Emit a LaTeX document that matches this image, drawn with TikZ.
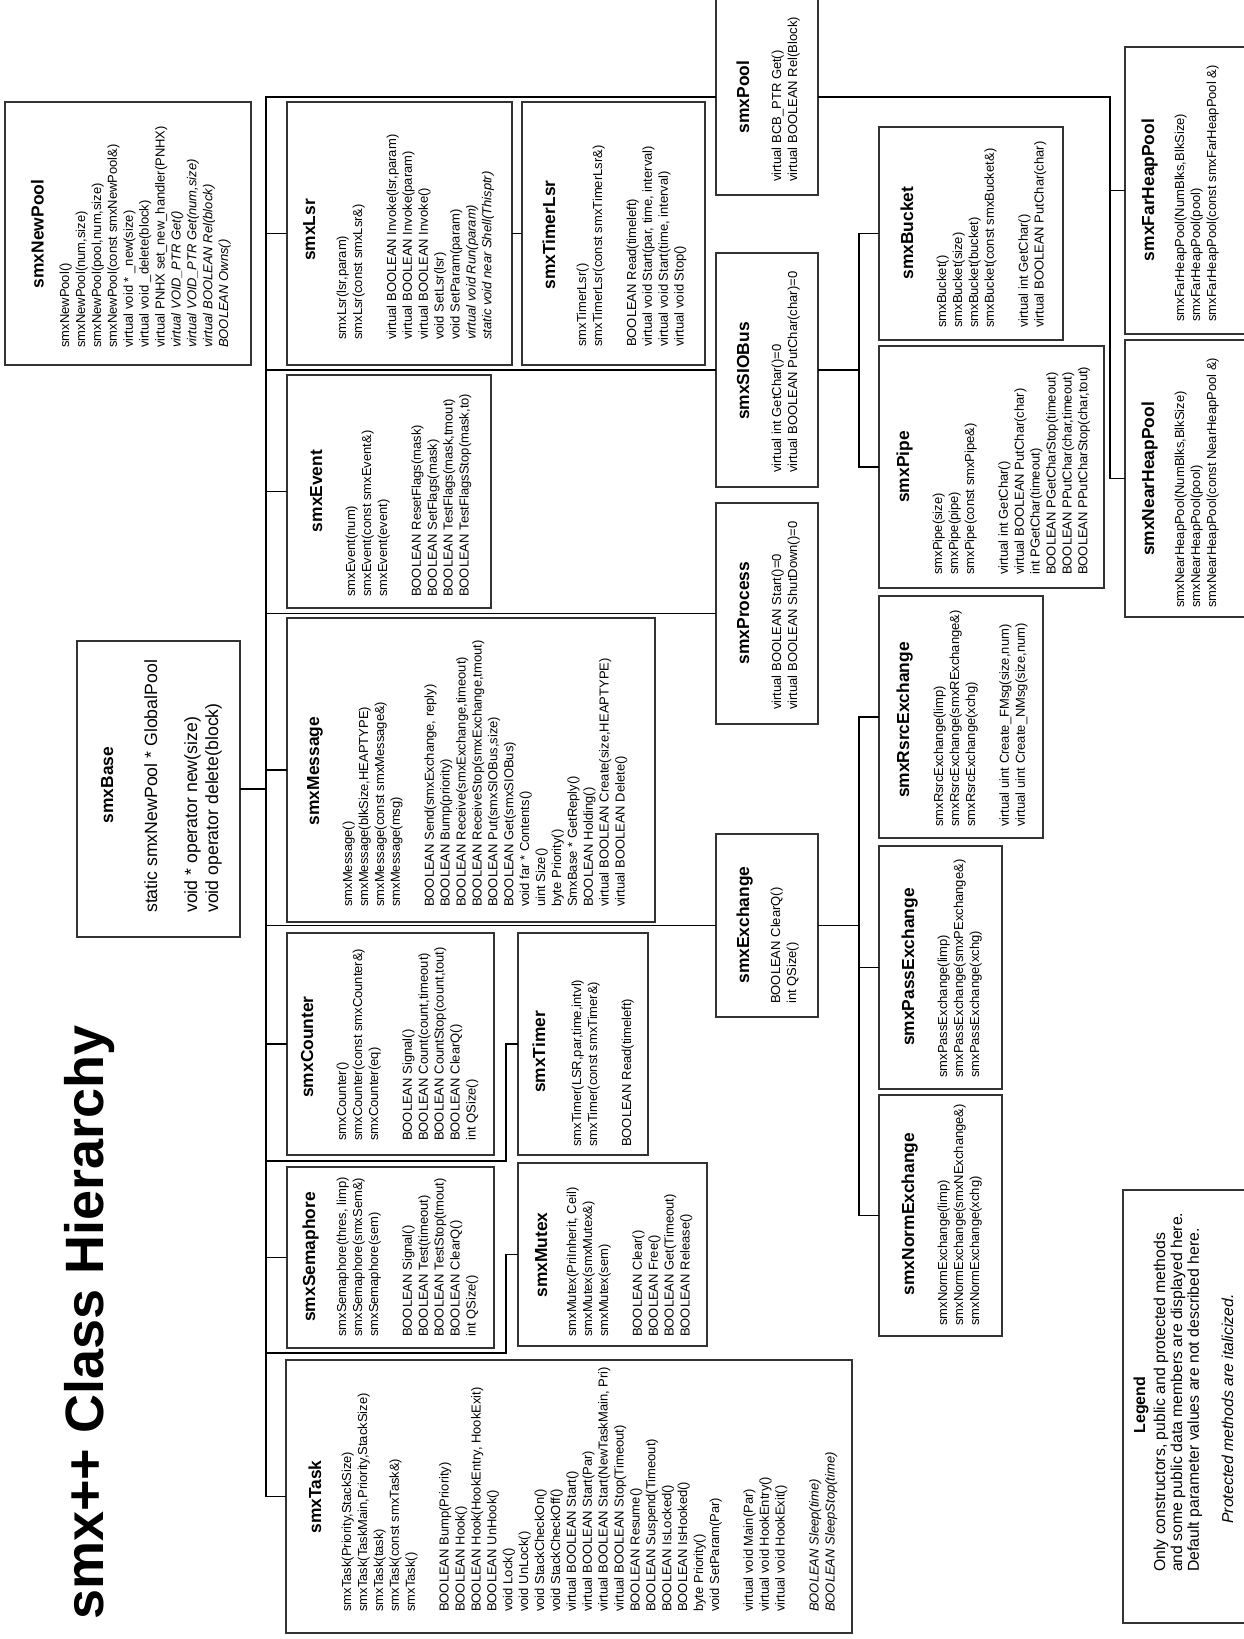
\documentclass[tikz,border=0pt]{standalone}
\usepackage{fontspec}
\setmainfont{Liberation Sans}
\newcommand\bodytop{\rule{0pt}{12pt}}
\newcommand\clsbox[5]{\node[cbox, minimum width=#4pt, minimum height=#5pt] (#1) at (#2,#3) {};}
\begin{document}
\begin{tikzpicture}[x=1pt,y=-1pt,
  cbox/.style={draw=black!80, line width=1.3pt, rectangle, inner sep=0pt, outer sep=0pt},
  conn/.style={draw=black, line width=1.3pt},
  ttl/.style={rotate=90, anchor=base, inner sep=0pt, font=\fontsize{17.4}{20}\selectfont\bfseries},
  body/.style={rotate=90, anchor=north west, inner sep=0pt, align=left, font=\fontsize{13}{15.9}\selectfont}]
\fill[white] (0,0) rectangle (1243,1639);
\useasboundingbox (0,0) rectangle (1243,1639);

% ---------- boxes ----------
\clsbox{newpool}{128}{233.5}{246}{263}
\clsbox{lsr}{399.5}{233.5}{225}{263}
\clsbox{timerlsr}{613.5}{233.5}{183}{263}
\clsbox{pool}{767}{97}{102}{196}
\clsbox{farheap}{1187.5}{190.5}{125}{287}
\clsbox{nearheap}{1187.5}{478.5}{125}{277}
\clsbox{bucket}{971}{233.5}{184}{213}
\clsbox{siobus}{767}{370}{102}{234}
\clsbox{pipe}{991.5}{467}{225}{242}
\clsbox{event}{389}{491.5}{204}{233}
\clsbox{process}{767}{613.5}{102}{221}
\clsbox{base}{158.5}{789}{163}{296}
\clsbox{message}{471}{770}{368}{304}
\clsbox{rsrc}{961}{717}{164}{242}
\clsbox{exchange}{767}{925.5}{102}{183}
\clsbox{pass}{940.5}{967.5}{123}{243}
\clsbox{norm}{940.5}{1215.5}{123}{241}
\clsbox{counter}{390.5}{1044}{207}{222}
\clsbox{timer}{583}{1044}{130}{222}
\clsbox{sem}{390.5}{1257.5}{207}{181}
\clsbox{mutex}{612.5}{1254.5}{189}{183}
\clsbox{task}{569}{1496.5}{566}{273}
\clsbox{legend}{1186.5}{1406.5}{127}{433}

% ---------- connectors ----------
\coordinate (tr) at (266,0);
\coordinate (v1) at (859,0);
\coordinate (v2) at (1110,0);
\coordinate (v3) at (506,0);
\coordinate (j1) at (266,1161);
\coordinate (j2) at (266,1353);
\draw[conn] (pool.west) -- (pool.west -| tr) -- (task.west -| tr) -- (task.west);
\draw[conn] (lsr.west) -- (lsr.west -| tr);
\draw[conn] (lsr.east) -- (timerlsr.west);
\draw[conn] (siobus.west) -- (siobus.west -| tr);
\draw[conn] (siobus.east) -- (siobus.east -| v1);
\draw[conn] (bucket.west) -- (bucket.west -| v1) -- (pipe.west -| v1) -- (pipe.west);
\draw[conn] (pool.east) -- (pool.east -| v2) -- (nearheap.west -| v2) -- (nearheap.west);
\draw[conn] (farheap.west) -- (farheap.west -| v2);
\draw[conn] (event.west) -- (event.west -| tr);
\draw[conn] (process.west) -- (process.west -| tr);
\draw[conn, line width=2.6pt] (base.east) -- (base.east -| tr);
\draw[conn] (message.west) -- (message.west -| tr);
\draw[conn] (exchange.west) -- (exchange.west -| tr);
\draw[conn] (exchange.east) -- (exchange.east -| v1);
\draw[conn] (rsrc.west) -- (rsrc.west -| v1) -- (norm.west -| v1) -- (norm.west);
\draw[conn] (pass.west) -- (pass.west -| v1);
\draw[conn] (counter.west) -- (counter.west -| tr);
\draw[conn] (j1) -- (j1 -| v3) -- (timer.west -| v3) -- (timer.west);
\draw[conn] (sem.west) -- (sem.west -| tr);
\draw[conn] (j2) -- (j2 -| v3) -- (mutex.west -| v3) -- (mutex.west);

% ---------- titles ----------
\node[ttl] (newpoolT) at (43.5,234) {smxNewPool};
\node[ttl] (lsrT) at (315,230) {smxLsr};
\node[ttl] (timerlsrT) at (555,235) {smxTimerLsr};
\node[ttl] (poolT) at (749,97) {smxPool};
\node[ttl] (farheapT) at (1154,190) {smxFarHeapPool};
\node[ttl] (nearheapT) at (1154,479) {smxNearHeapPool};
\node[ttl] (bucketT) at (913,233) {smxBucket};
\node[ttl] (siobusT) at (749,371) {smxSIOBus};
\node[ttl] (pipeT) at (909,467) {smxPipe};
\node[ttl] (eventT) at (322,491) {smxEvent};
\node[ttl] (processT) at (749,613) {smxProcess};
\node[ttl] (baseT) at (113,785) {smxBase};
\node[ttl] (messageT) at (319,771) {smxMessage};
\node[ttl] (rsrcT) at (909,720) {smxRsrcExchange};
\node[ttl] (exchangeT) at (749,925) {smxExchange};
\node[ttl] (passT) at (914,967) {smxPassExchange};
\node[ttl] (normT) at (914,1214) {smxNormExchange};
\node[ttl] (counterT) at (313,1047) {smxCounter};
\node[ttl] (timerT) at (545,1052) {smxTimer};
\node[ttl] (semT) at (315,1257) {smxSemaphore};
\node[ttl] (mutexT) at (547,1255) {smxMutex};
\node[ttl] (taskT) at (321,1497) {smxTask};

% ---------- bodies ----------
\node[body] (newpoolB) at (57,348) {\bodytop smxNewPool()\\
smxNewPool(num,size)\\
smxNewPool(pool,num,size)\\
smxNewPool(const smxNewPool\&)\\
virtual void * \_new(size)\\
virtual void \_delete(block)\\
virtual PNHX set\_new\_handler(PNHX)\\
\textit{virtual VOID\_PTR Get()}\\
\textit{virtual VOID\_PTR Get(num,size)}\\
\textit{virtual BOOLEAN Rel(block)}\\
\textit{BOOLEAN Owns()}};

\node[body] (lsrB) at (334,340) {\bodytop smxLsr(lsr,param)\\
smxLsr(const smxLsr\&)\\[18pt]
virtual BOOLEAN Invoke(lsr,param)\\
virtual BOOLEAN Invoke(param)\\
virtual BOOLEAN Invoke()\\
void SetLsr(lsr)\\
void SetParam(param)\\
\textit{virtual void Run(param)}\\
\textit{static void near Shell(Thisptr)}};

\node[body] (timerlsrB) at (574,347) {\bodytop smxTimerLsr()\\
smxTimerLsr(const smxTimerLsr\&)\\[18pt]
BOOLEAN Read(timeleft)\\
virtual void Start(par, time, interval)\\
virtual void Start(time, interval)\\
virtual void Stop()};

\node[body] (poolB) at (769,182) {\bodytop virtual BCB\_PTR Get()\\
virtual BOOLEAN Rel(Block)};

\node[body] (farheapB) at (1172,322) {\bodytop smxFarHeapPool(NumBlks,BlkSize)\\
smxFarHeapPool(pool)\\
smxFarHeapPool(const smxFarHeapPool \&)};

\node[body] (nearheapB) at (1172,608) {\bodytop smxNearHeapPool(NumBlks,BlkSize)\\
smxNearHeapPool(pool)\\
smxNearHeapPool(const NearHeapPool \&)};

\node[body] (bucketB) at (934,328) {\bodytop smxBucket()\\
smxBucket(size)\\
smxBucket(bucket)\\
smxBucket(const smxBucket\&)\\[18pt]
virtual int GetChar()\\
virtual BOOLEAN PutChar(char)};

\node[body] (siobusB) at (769,473) {\bodytop virtual int GetChar()=0\\
virtual BOOLEAN PutChar(char)=0};

\node[body] (pipeB) at (930,575) {\bodytop smxPipe(size)\\
smxPipe(pipe)\\
smxPipe(const smxPipe\&)\\[18pt]
virtual int GetChar()\\
virtual BOOLEAN PutChar(char)\\
int PGetChar(timeout)\\
BOOLEAN PGetCharStop(timeout)\\
BOOLEAN PPutChar(char,timeout)\\
BOOLEAN PPutCharStop(char,tout)};

\node[body] (eventB) at (343,597) {\bodytop smxEvent(num)\\
smxEvent(const smxEvent\&)\\
smxEvent(event)\\[18pt]
BOOLEAN ResetFlags(mask)\\
BOOLEAN SetFlags(mask)\\
BOOLEAN TestFlags(mask,tmout)\\
BOOLEAN TestFlagsStop(mask,to)};

\node[body] (processB) at (769,710) {\bodytop virtual BOOLEAN Start()=0\\
virtual BOOLEAN ShutDown()=0};

\node[body, font=\fontsize{17.7}{21}\selectfont] (baseB) at (142,913) {\rule{0pt}{15pt}static smxNewPool * GlobalPool\\[19pt]
void * operator new(size)\\
void operator delete(block)};

\node[body] (messageB) at (340,907) {\bodytop smxMessage()\\
smxMessage(blkSize,HEAPTYPE)\\
smxMessage(const smxMessage\&)\\
smxMessage(msg)\\[18pt]
BOOLEAN Send(smxExchange, reply)\\
BOOLEAN Bump(priority)\\
BOOLEAN Receive(smxExchange,timeout)\\
BOOLEAN ReceiveStop(smxExchange,tmout)\\
BOOLEAN Put(smxSIOBus,size)\\
BOOLEAN Get(smxSIOBus)\\
void far * Contents()\\
uint Size()\\
byte Priority()\\
SmxBase * GetReply()\\
BOOLEAN Holding()\\
virtual BOOLEAN Create(size,HEAPTYPE)\\
virtual BOOLEAN Delete()};

\node[body] (rsrcB) at (931,827) {\bodytop smxRsrcExchange(limp)\\
smxRsrcExchange(smxRExchange\&)\\
smxRsrcExchange(xchg)\\[18pt]
virtual uint Create\_FMsg(size,num)\\
virtual uint Create\_NMsg(size,num)};

\node[body] (exchangeB) at (768,1004) {\bodytop BOOLEAN ClearQ()\\
int QSize()};

\node[body] (passB) at (935,1078) {\bodytop smxPassExchange(limp)\\
smxPassExchange(smxPExchange\&)\\
smxPassExchange(xchg)};

\node[body] (normB) at (935,1326) {\bodytop smxNormExchange(limp)\\
smxNormExchange(smxNExchange\&)\\
smxNormExchange(xchg)};

\node[body] (counterB) at (334,1141) {\bodytop smxCounter()\\
smxCounter(const smxCounter\&)\\
smxCounter(eq)\\[18pt]
BOOLEAN Signal()\\
BOOLEAN Count(count,timeout)\\
BOOLEAN CountStop(count,tout)\\
BOOLEAN ClearQ()\\
int QSize()};

\node[body] (timerB) at (569,1147) {\bodytop smxTimer(LSR,par,time,intvl)\\
smxTimer(const smxTimer\&)\\[18pt]
BOOLEAN Read(timeleft)};

\node[body] (semB) at (334,1337) {\bodytop smxSemaphore(thres, limp)\\
smxSemaphore(smxSem\&)\\
smxSemaphore(sem)\\[18pt]
BOOLEAN Signal()\\
BOOLEAN Test(timeout)\\
BOOLEAN TestStop(tmout)\\
BOOLEAN ClearQ()\\
int QSize()};

\node[body] (mutexB) at (564,1337) {\bodytop smxMutex(PriInherit, Ceil)\\
smxMutex(smxMutex\&)\\
smxMutex(sem)\\[18pt]
BOOLEAN Clear()\\
BOOLEAN Free()\\
BOOLEAN Get(Timeout)\\
BOOLEAN Release()};

\node[body] (taskB) at (339,1612) {\bodytop smxTask(Priority,StackSize)\\
smxTask(TaskMain,Priority,StackSize)\\
smxTask(task)\\
smxTask(const smxTask\&)\\
smxTask()\\[18pt]
BOOLEAN Bump(Priority)\\
BOOLEAN Hook()\\
BOOLEAN Hook(HookEntry, HookExit)\\
BOOLEAN UnHook()\\
void Lock()\\
void UnLock()\\
void StackCheckOn()\\
void StackCheckOff()\\
virtual BOOLEAN Start()\\
virtual BOOLEAN Start(Par)\\
virtual BOOLEAN Start(NewTaskMain, Pri)\\
virtual BOOLEAN Stop(Timeout)\\
BOOLEAN Resume()\\
BOOLEAN Suspend(Timeout)\\
BOOLEAN IsLocked()\\
BOOLEAN IsHooked()\\
byte Priority()\\
void SetParam(Par)\\[18pt]
virtual void Main(Par)\\
virtual void HookEntry()\\
virtual void HookExit()\\[18pt]
\textit{BOOLEAN Sleep(time)}\\
\textit{BOOLEAN SleepStop(time)}};

% ---------- legend ----------
\node[rotate=90, anchor=base, inner sep=0pt, font=\fontsize{16}{19}\selectfont\bfseries] (legT) at (1145,1405) {Legend};
\node[rotate=90, anchor=north west, inner sep=0pt, align=left, font=\fontsize{15.8}{16.8}\selectfont] (legB) at (1152,1572) {\rule{0pt}{13pt}Only constructors, public and protected methods\\
and some public data members are displayed here.\\
Default parameter values are not described here.};
\node[rotate=90, anchor=base, inner sep=0pt, font=\fontsize{15.8}{18}\selectfont\itshape] (legI) at (1233,1409) {Protected methods are italicized.};

% ---------- big title ----------
\node[rotate=90, anchor=base west, inner sep=0pt, font=\fontsize{54}{60}\selectfont\bfseries] (bigtitle) at (103,1620) {smx++ Class Hierarchy};
\end{tikzpicture}
\end{document}
